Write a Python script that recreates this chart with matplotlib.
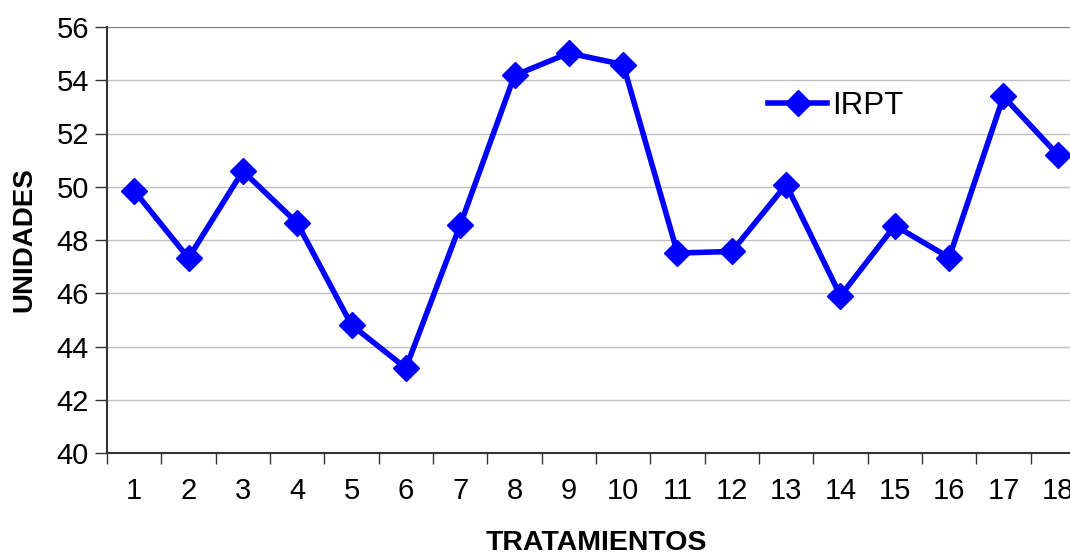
import matplotlib.pyplot as plt
from matplotlib.ticker import FixedLocator, NullFormatter

plt.rcParams['font.family'] = ['Liberation Sans', 'DejaVu Sans']

tratamientos = [str(i) for i in range(1, 19)]
irpt = [49.85, 47.32, 50.59, 48.64, 44.81, 43.19, 48.56, 54.18, 55.02,
        54.59, 47.51, 47.57, 50.08, 45.90, 48.54, 47.34, 53.39, 51.20]

fig = plt.figure(figsize=(10.7, 5.52), dpi=100)
ax = fig.add_axes([107 / 1070, 1 - 453 / 552, 978 / 1070, 426 / 552])

x = list(range(len(tratamientos)))
ax.plot(x, irpt, color='#0000FF', lw=4, marker='D', markersize=13,
        label='IRPT', zorder=3, clip_on=False)

ax.set_xlim(-0.5, len(tratamientos) - 0.5)
ax.set_ylim(40, 56)
ax.set_yticks(range(40, 57, 2))
ax.yaxis.grid(True, color='#c0c0c0', lw=1)
ax.set_axisbelow(True)

ax.set_xticks(x)
ax.set_xticklabels(tratamientos)
ax.xaxis.set_minor_locator(FixedLocator([i - 0.5 for i in range(len(x) + 1)]))
ax.xaxis.set_minor_formatter(NullFormatter())
ax.tick_params(axis='x', which='major', length=0, pad=17, labelsize=21)
ax.tick_params(axis='x', which='minor', length=8, width=1, color='#333333')
ax.tick_params(axis='y', length=9, width=1, color='#333333', labelsize=21, pad=4)

for s in ['top', 'right']:
    ax.spines[s].set_visible(False)
for s in ['left', 'bottom']:
    ax.spines[s].set_color('#333333')
    ax.spines[s].set_linewidth(1.5)
ax.axhline(56, color='#808080', lw=1.5, zorder=1)

ax.set_xlabel('TRATAMIENTOS', fontsize=20.5, fontweight='bold', labelpad=18)
ax.set_ylabel('UNIDADES', fontsize=20, fontweight='bold', labelpad=14)

leg = ax.legend(loc='upper left', bbox_to_anchor=(636 / 978, 1 - 39 / 426),
                frameon=True, fontsize=22.5, handlelength=1.9, borderpad=0.3,
                handletextpad=0.15, fancybox=False)
leg.get_frame().set_edgecolor('white')
leg.get_frame().set_facecolor('white')
leg.get_frame().set_alpha(1)

plt.savefig('out.png', dpi=100)
